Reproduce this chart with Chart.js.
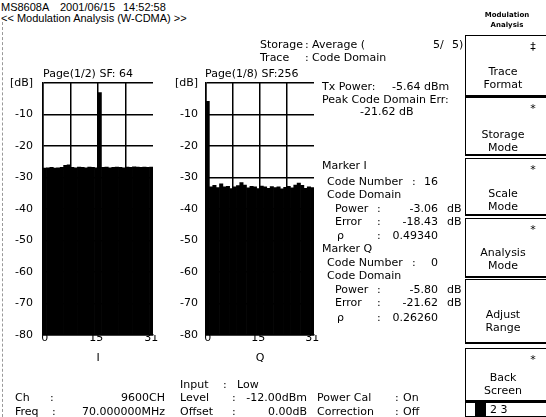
<!DOCTYPE html>
<html><head><meta charset="utf-8">
<script src="https://cdn.jsdelivr.net/npm/chart.js@4.4.1/dist/chart.umd.min.js"></script>
<style>
html,body{margin:0;padding:0;background:#fff;}
#page{position:relative;width:546px;height:417px;overflow:hidden;background:#fff;font-family:"DejaVu Sans",sans-serif;font-size:11px;color:#000;}
.t{position:absolute;white-space:pre;line-height:12px;height:12px;}
canvas{position:absolute;}
.key{position:absolute;left:465px;width:90px;border:1.5px solid #000;border-bottom-width:2.5px;background:#fff;box-sizing:border-box;}
.vl{position:absolute;left:2px;top:22px;height:395px;border-left:1px dashed #999;}
</style></head><body><div id="page">
<div class="vl"></div>
<canvas id="cI" width="162" height="310" style="left:0;top:60px;width:162px;height:310px"></canvas>
<canvas id="cQ" width="165" height="310" style="left:160px;top:60px;width:165px;height:310px"></canvas>
</div>
<script>
// ---- data ----
const codes = ['0','1','2','3','4','5','6','7','8','9','10','11','12','13','14','15',
               '16','17','18','19','20','21','22','23','24','25','26','27','28','29','30','31'];
const powerI = [-27.0,-26.9,-26.8,-27.0,-26.9,-26.8,-26.1,-26.0,-26.8,-26.9,-26.7,-26.8,-26.9,-26.7,-26.8,-26.9,
                -3.06,-26.8,-26.7,-26.9,-26.8,-26.7,-26.8,-26.9,-26.7,-26.8,-26.6,-26.7,-26.8,-26.7,-26.8,-26.7];
const powerQ = [-5.80,-33.0,-32.5,-33.2,-32.0,-33.0,-32.8,-33.5,-33.0,-32.6,-31.6,-32.4,-33.3,-32.8,-33.0,-33.5,
                -32.7,-33.0,-33.4,-32.9,-33.2,-33.0,-33.6,-33.1,-32.8,-33.3,-32.4,-31.8,-32.5,-33.4,-33.0,-33.2];
const xTickCodes = [0, 15, 31];
const yMin = -80, yMax = 0, yStep = 10;
const yUnitLabel = '[dB]';

// ---- charts ----
const tickFont = {family:'DejaVu Sans', size:11};
function makeChart(id, values, axisTitle, yWidth, padRight, yPad){
  return new Chart(document.getElementById(id), {
    type:'bar',
    data:{labels:codes, datasets:[{data:values.map(v=>[yMin, v]), backgroundColor:'#000', borderWidth:0,
      barPercentage:1, categoryPercentage:1}]},
    options:{responsive:false, animation:false, events:[],
      layout:{padding:{top:23, right:padRight, left:0, bottom:5}},
      plugins:{legend:{display:false}, tooltip:{enabled:false}},
      scales:{
        x:{type:'category', offset:true,
          grid:{offset:true, drawTicks:false, lineWidth:1.5,
                color:c=> (c.index % 8 === 0) ? '#000' : 'rgba(0,0,0,0)'},
          border:{display:true, color:'#000', width:1.5},
          ticks:{autoSkip:false, maxRotation:0, minRotation:0, padding:-3, color:'#000', font:tickFont,
                 callback:(v,i)=> xTickCodes.includes(i) ? codes[i] : ''},
          title:{display:true, text:axisTitle, color:'#000', font:tickFont, padding:{top:0,bottom:0}},
          afterFit:s=>{ s.height = 30; }
        },
        y:{min:yMin, max:yMax,
          ticks:{stepSize:yStep, padding:yPad, color:'#000', font:tickFont,
                 callback:v=> v === 0 ? yUnitLabel : String(v)},
          grid:{color:'#000', lineWidth:1.5, drawTicks:false},
          border:{display:true, color:'#000', width:1.5},
          afterFit:s=>{ s.width = yWidth; }
        }
      }
    }
  });
}
makeChart('cI', powerI, 'I', 43, 9, 10);
makeChart('cQ', powerQ, 'Q', 46, 11, 8);

// ---- screen text ----
const page = document.getElementById('page');
function txt(s, x, y, align, extra){
  const d = document.createElement('div');
  d.className = 't';
  d.textContent = s;
  if (align === 'r'){ d.style.left = (x-200)+'px'; d.style.width='200px'; d.style.textAlign='right'; }
  else if (align === 'c'){ d.style.left = (x-60)+'px'; d.style.width='120px'; d.style.textAlign='center'; }
  else d.style.left = x+'px';
  d.style.top = (y-6)+'px';
  if (extra) Object.assign(d.style, extra);
  page.appendChild(d);
}
const narrow = {fontFamily:'"Liberation Sans", Arial, sans-serif', fontSize:'11px'};
[['MS8608A',1,7],['2001/06/15',60,7],['14:52:58',123,7],
 ['<< Modulation Analysis (W-CDMA) >>',1,18]].forEach(a=>txt(a[0],a[1],a[2],'',narrow));
const headerTexts = [
  ['Storage',260,45],[':',305,45],['Average (',312,45],['5/',433,45],['5)',452,45],
  ['Trace',260,58],[':',305,58],['Code Domain',312,58],
  ['Page(1/2) SF: 64',43,74],['Page(1/8) SF:256',205,74],
  ['Tx Power:',322,87],['-5.64 dBm',392,87],
  ['Peak Code Domain Err:',322,100],['-21.62 dB',360,112],
  ['Marker I',322,166],['Code Number',327,182],[':',412,182],
  ['Code Domain',327,195],
  ['Power',335,209],[':',377,209],['dB',447,209],
  ['Error',335,222],[':',377,222],['dB',447,222],
  ['\u03C1',337,236],[':',377,236],
  ['Marker Q',322,249],['Code Number',327,263],[':',412,263],
  ['Code Domain',327,276],
  ['Power',335,290],[':',377,290],['dB',447,290],
  ['Error',335,303],[':',377,303],['dB',447,303],
  ['\u03C1',337,318],[':',377,318],
  ['Input',180,385],[':',223,385],['Low',237,385],
  ['Ch',15,398],[':',50,398],['Level',180,398],[':',232,398],['Power Cal',317,398],[':',395,398],['On',403,398],
  ['Freq',15,412],[':',52,412],['Offset',180,412],[':',232,412],['Correction',317,412],[':',395,412],['Off',403,412]
];
headerTexts.forEach(a=>txt(a[0],a[1],a[2]));
const rightTexts = [
  ['16',438,182],['-3.06',438,209],['-18.43',438,222],['0.49340',438,236],
  ['0',438,263],['-5.80',438,290],['-21.62',438,303],['0.26260',438,318],
  ['9600CH',165,398],['-12.00dBm',307,398],['70.000000MHz',165,412],['0.00dB',307,412]
];
rightTexts.forEach(a=>txt(a[0],a[1],a[2],'r'));

// ---- soft keys ----
txt('Modulation',507,15,'c',{fontSize:'7px',fontWeight:'bold'});
txt('Analysis',507,25,'c',{fontSize:'7px',fontWeight:'bold'});
const keys = [
  [35,97,'Trace','Format','\u2021',72],[97,156,'Storage','Mode','*',135],[158,216,'Scale','Mode','*',194],
  [218,278,'Analysis','Mode','*',253],[279,344,'Adjust','Range','',315],[348,402,'Back','Screen','*',378]
];
keys.forEach(k=>{
  const b = document.createElement('div');
  b.className='key'; b.style.top=k[0]+'px'; b.style.height=(k[1]-k[0])+'px';
  page.appendChild(b);
  txt(k[2],503,k[5],'c');
  txt(k[3],503,k[5]+13,'c');
  if (k[4]) txt(k[4],533,k[0]+12,'c');
});
const ind = document.createElement('div');
ind.style.cssText='position:absolute;left:465px;top:402px;width:90px;height:15px;border:1px solid #000;box-sizing:border-box;background:#fff;';
page.appendChild(ind);
const blk = document.createElement('div');
blk.style.cssText='position:absolute;left:475px;top:403px;width:11px;height:14px;background:#000;';
page.appendChild(blk);
txt('2 3',490,410);
</script>
</body></html>
